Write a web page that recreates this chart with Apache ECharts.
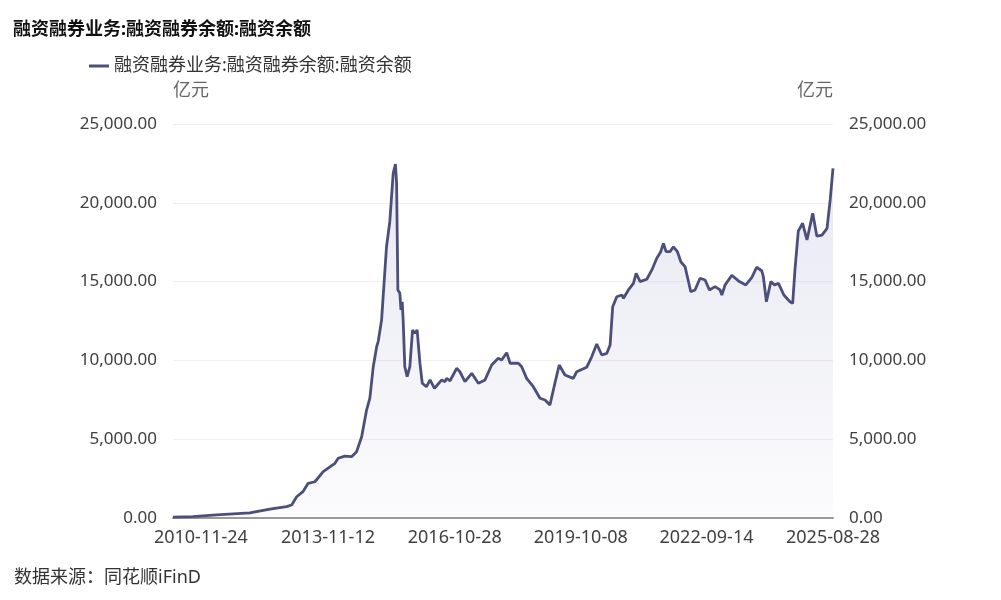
<!DOCTYPE html>
<html>
<head>
<meta charset="utf-8">
<script src="https://cdn.jsdelivr.net/npm/echarts@6/dist/echarts.min.js"></script>
<style>
html,body{margin:0;padding:0;background:#fff;}
#chart{width:1001px;height:600px;}
</style>
</head>
<body>
<div id="chart"></div>
<script>
// ---- data (亿元) ----
var titleText = '融资融券业务:融资融券余额:融资余额';
var seriesName = '融资融券业务:融资融券余额:融资余额';
var unitName = '亿元';
var sourceText = '数据来源：同花顺iFinD';
var xStart = '2010-03-31';
var xEnd = '2025-08-28';
var xTickDates = ['2010-11-24','2013-11-12','2016-10-28','2019-10-08','2022-09-14','2025-08-28'];
var yTicks = [0, 5000, 10000, 15000, 20000, 25000];

var dates = [
'2010-03-31','2010-09-16','2011-04-06','2012-01-15','2012-07-04','2012-11-23',
'2013-01-06','2013-02-18','2013-04-12','2013-05-27','2013-07-23','2013-10-02',
'2014-01-10','2014-02-07','2014-04-05','2014-06-01','2014-07-14','2014-08-26','2014-10-07','2014-11-04','2014-12-03',
'2015-01-01','2015-01-14','2015-01-28','2015-02-12','2015-03-26','2015-04-23','2015-05-22','2015-06-10','2015-06-20',
'2015-07-01','2015-07-18','2015-07-27','2015-08-07','2015-08-15','2015-08-29','2015-09-18','2015-10-11','2015-11-03','2015-11-23','2015-12-12',
'2016-01-05','2016-01-25','2016-02-29','2016-04-01','2016-05-08','2016-06-14','2016-07-09','2016-08-06','2016-08-20','2016-09-18','2016-11-13','2016-12-11',
'2017-01-23','2017-03-22','2017-05-17','2017-07-13','2017-09-08','2017-11-03','2017-12-02',
'2018-01-14','2018-02-12','2018-04-23','2018-05-22','2018-07-03','2018-08-29','2018-10-25','2018-12-07',
'2019-01-18','2019-03-01','2019-04-07','2019-05-26','2019-08-05','2019-09-03','2019-11-27',
'2020-01-09','2020-02-21','2020-04-04','2020-05-17','2020-06-14','2020-07-06','2020-08-10','2020-09-22','2020-10-06','2020-11-17','2020-12-30',
'2021-01-22','2021-02-25','2021-04-23','2021-06-05','2021-07-17','2021-08-20','2021-09-12','2021-10-04','2021-11-07','2021-12-06',
'2022-01-09','2022-02-07','2022-03-15','2022-04-07','2022-05-03','2022-06-08','2022-07-21','2022-09-02','2022-10-09','2022-11-26',
'2023-01-08','2023-01-23','2023-02-20','2023-04-18','2023-06-21','2023-08-15','2023-10-05','2023-11-16','2023-12-29',
'2024-01-12','2024-02-07','2024-03-16','2024-04-16','2024-05-20','2024-07-05','2024-08-26','2024-09-18','2024-10-08','2024-11-05','2024-12-12',
'2025-01-18','2025-03-08','2025-04-12','2025-05-26','2025-07-08','2025-08-04','2025-08-28'
];
var values = [
50,90,200,330,560,720,
825,1350,1670,2200,2300,2940,
3470,3790,3930,3890,4210,5160,6850,7600,9600,
10870,11190,11080,12560,17210,18800,21870,22450,21240,
14470,14260,13200,13720,12560,9600,8970,9600,11930,11720,11930,
9820,8550,8330,8760,8230,8550,8760,8650,8860,8710,9500,9280,
8650,9180,8550,8760,9710,10130,10030,
10490,9820,9820,9600,8860,8330,7600,7490,
7170,8550,9710,9070,8860,9280,9560,
10230,11040,10340,10450,10980,13400,14040,14150,13940,14470,14890,
15530,15000,15150,15740,16480,16900,17430,16900,16900,17210,
16900,16260,15950,15210,14360,14470,15210,15100,14470,14680,
14470,14150,14790,15400,15000,14790,15250,15910,15690,
15310,13720,15000,14790,14890,14150,13720,13620,15790,18200,18700,
17640,19330,17890,17950,18380,20180,22190
];

// ---- build ----
function ts(s){ var p = s.split('-'); return Date.UTC(+p[0], +p[1]-1, +p[2]); }
function fmtDate(t){
  var d = new Date(t);
  var m = d.getUTCMonth()+1, dd = d.getUTCDate();
  return d.getUTCFullYear() + '-' + (m<10?'0':'') + m + '-' + (dd<10?'0':'') + dd;
}
var seriesData = dates.map(function(d,i){ return [ts(d), values[i]]; });
var tickTs = xTickDates.map(ts);
function fmtNum(v){ return Number(v).toLocaleString('en-US',{minimumFractionDigits:2, maximumFractionDigits:2}); }

var FONT = '"Noto Sans", "Noto Sans CJK SC", sans-serif';
var LINE = '#4b4f7a';

var chart = echarts.init(document.getElementById('chart'), null, {renderer:'canvas'});
function yAxisCfg(pos, align){
  return {
    type:'value', position:pos,
    min:yTicks[0], max:yTicks[yTicks.length-1], interval:yTicks[1]-yTicks[0],
    axisLine:{show:false}, axisTick:{show:false},
    splitLine:{show:true, lineStyle:{color:'#f0f0f2', width:1}},
    name:unitName, nameLocation:'end', nameGap:24,
    nameTextStyle:{color:'#666', fontSize:18, fontFamily:FONT, align:align},
    axisLabel:{color:'#404040', fontSize:17, fontFamily:FONT, margin:16, formatter:fmtNum}
  };
}
var option = {
  backgroundColor:'#ffffff',
  animation:false,
  title:{
    text:titleText, left:8, top:16,
    textStyle:{fontSize:18, fontWeight:'bold', color:'#111', fontFamily:FONT}
  },
  legend:{
    show:true, left:84, top:52,
    itemWidth:20, itemHeight:3, icon:'rect',
    textStyle:{fontSize:18, color:'#333', fontFamily:FONT},
    data:[{name:seriesName, icon:'rect'}]
  },
  grid:{left:173, right:168, top:124, bottom:82},
  xAxis:{
    type:'value', min:ts(xStart), max:ts(xEnd),
    axisLine:{show:true, lineStyle:{color:'#9a9a9a', width:2}},
    axisTick:{show:false},
    splitLine:{show:false},
    axisLabel:{
      customValues:tickTs,
      color:'#404040', fontSize:18, fontFamily:FONT, margin:11,
      hideOverlap:false,
      formatter:function(v){ return fmtDate(v); }
    }
  },
  yAxis:[ yAxisCfg('left','left'), yAxisCfg('right','right') ],
  series:[{
    name:seriesName, type:'line', yAxisIndex:0,
    data:seriesData, showSymbol:false, symbol:'none',
    lineStyle:{color:LINE, width:2.8},
    itemStyle:{color:LINE},
    areaStyle:{
      color:new echarts.graphic.LinearGradient(0,0,0,1,[
        {offset:0, color:'rgba(90,96,160,0.20)'},
        {offset:1, color:'rgba(90,96,160,0.03)'}
      ])
    }
  }],
  graphic:[{
    type:'text', left:14, top:569,
    style:{text:sourceText, fill:'#333', font:'18px ' + FONT}
  }]
};
chart.setOption(option);
</script>
</body>
</html>
